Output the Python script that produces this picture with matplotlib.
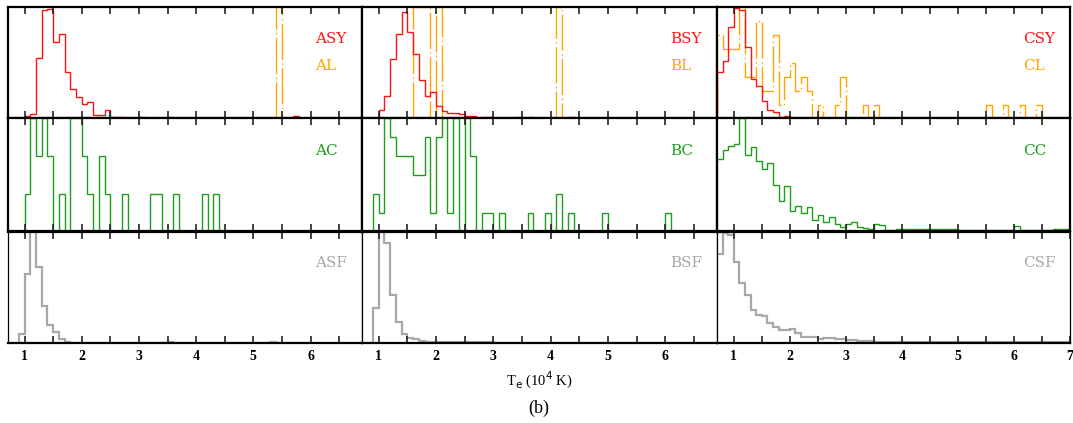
import numpy as np
import matplotlib
matplotlib.use("Agg")
import matplotlib.pyplot as plt
from matplotlib.ticker import MultipleLocator

BIN = 0.1

# ---- top row: synthetic-line (red, % of panel) and line-sample (orange, counts)
ASY_start = 1.0
ASY = [2, 4, 54, 97, 98, 68, 76, 42, 26, 19, 13, 15, 3, 3, 7.5, 1, 1.5, 0, 0, 0,
       1.5, 0, 0, 0, 0, 1.2, 0, 0, 0, 0, 0, 0.6, 0.6, 0.6, 0, 0, 0, 0.6,
       0, 0, 0, 0, 0, 0, 0, 0, 0, 2, 0]
AL_start = 5.4
AL = [1]

BSY_start = 0.9
BSY = [0, 8, 20, 53, 76, 95, 77, 58, 34, 20, 24, 11, 6.5, 5, 5, 4, 2, 2, 0.5, 1,
       1, 0.5, 0.5, 0.5, 0.5, 1.2, 0.5, 1.2, 0.3, 0.3, 0.3, 0.3, 0.3, 0.3, 1.2, 0]
BL_start = 1.6
BL = [1, 1, 1, 0, 1, 0, 0, 0, 0, 0, 0, 0, 0, 0, 0, 0, 0, 0, 0, 0,
      0, 0, 0, 0, 0, 1]

CSY_start = 0.7
CSY = [42, 51, 81.5, 99, 97, 64, 35.5, 29, 16, 8, 6, 1.5, 2]
CL_start = 0.7
CL = [6, 5, 5, 5, 8, 3, 3, 7, 2, 2,
      6, 1, 3, 4, 2, 3, 2, 0, 1, 0,
      0, 1, 3, 0, 0, 0, 1, 0, 1, 0,
      0, 0, 0, 0, 0, 0, 0, 0, 0, 0, 0, 0, 0, 0, 0, 0, 0, 0,
      1, 0, 0, 1, 0, 0, 1, 0, 0, 1]

# ---- middle row (green)
AC_start = 1.0
AC = [1, 3, 2, 3, 2, 0, 1, 0, 3, 3, 2, 1, 0, 2, 1, 0, 0, 1, 0, 0,
      0, 0, 1, 1, 0, 0, 1, 0, 0, 0, 0, 1, 0, 1]
BC_start = 0.9
BC = [2, 1, 6, 5, 4, 4, 4, 3, 3, 5, 1, 5, 6, 1, 6, 0, 6, 4, 0, 1,
      1, 0, 1, 0, 0, 0, 0, 1, 0, 0, 1, 0, 2, 0, 1, 0, 0, 0, 0, 0,
      1, 0, 0, 0, 0, 0, 0, 0, 0, 0, 0, 1]
CC_start = 0.7
CC = ([64.5, 72, 76, 77.5, 100, 67.5, 74.5, 62.5, 55.5, 61,
       41, 27, 40, 18, 23, 16, 22, 10, 14.5, 8.5,
       13, 7, 4, 7, 8, 4, 3, 2.5, 6.5, 5.5, 1, 1, 2.5]
      + [2] * 10 + [1] * 10 + [5] + [1] * 6 + [2] * 3)

# ---- bottom row (grey, % of panel)
ASF_start = 0.9
ASF = ([8, 62, 100, 68, 33, 16, 10, 3.6, 1.2, 0.6, 0.6]
       + [0.3] * 15 + [1] + [0.3] * 17 + [1] + [0.3] * 5)
BSF_start = 0.9
BSF = ([32, 100, 90, 43, 19, 8, 5, 3.6, 2.5, 1.5, 1.5]
       + [1.0] * 10 + [0.6] * 39)
CSF_start = 0.7
CSF = ([80, 99, 97, 73, 54, 43, 30, 25.6, 24, 18, 15, 12, 11.5, 12.7, 9,
        6, 6, 6, 3.6, 5, 4.5, 4, 3.6, 3, 3, 2.4, 2.4, 2.4]
       + [1.5] * 5 + [1.2] * 10 + [0.8] * 20)

RED, ORANGE, GREEN, GREY = "#ff1414", "#ffa500", "#1c9e1c", "#a8a8a8"


def norm(v):
    v = np.asarray(v, dtype=float)
    return 100.0 * v / v.max()


def edges(start, vals):
    return start + BIN * np.arange(len(vals) + 1)


fig = plt.figure(figsize=(10.73, 4.23), dpi=100)
W, H = 1073.0, 423.0
col_x = [8, 362, 717]
col_w = [354, 355, 353]
row_top = [6.7, 118.5, 231.5]
row_h = [111.8, 113.0, 111.8]
xlims = [(0.71, 6.9), (0.71, 6.9), (0.70, 7.0)]

top = [
    [(ASY_start, ASY, RED, "-", "ASY"), (AL_start, norm(AL), ORANGE, "dd", "AL")],
    [(BSY_start, BSY, RED, "-", "BSY"), (BL_start, norm(BL), ORANGE, "dd", "BL")],
    [(CSY_start, CSY, RED, "-", "CSY"), (CL_start, norm(CL), ORANGE, "dd", "CL")],
]
mid = [
    [(AC_start, norm(AC), GREEN, "-", "AC")],
    [(BC_start, norm(BC), GREEN, "-", "BC")],
    [(CC_start, CC, GREEN, "-", "CC")],
]
bot = [
    [(ASF_start, ASF, GREY, "-", "ASF")],
    [(BSF_start, BSF, GREY, "-", "BSF")],
    [(CSF_start, CSF, GREY, "-", "CSF")],
]
rows = [top, mid, bot]
label_y = [[0.71, 0.47], [0.71], [0.72]]

for r in range(3):
    for c in range(3):
        ax = fig.add_axes([col_x[c] / W, 1 - (row_top[r] + row_h[r]) / H,
                           col_w[c] / W, row_h[r] / H])
        series = rows[r][c]
        # draw orange first so red lies over it
        for (start, vals, col, ls, name) in sorted(series, key=lambda s: s[3] != "dd", reverse=False):
            if ls == "dd":
                ax.stairs(vals, edges(start, vals), baseline=0, color=col, lw=1.0,
                          linestyle=(0, (26, 2.5, 1, 2.5)))
            else:
                ax.stairs(vals, edges(start, vals), baseline=0, color=col,
                          lw=1.6 if col == GREY else 1.0)
        for k, (start, vals, col, ls, name) in enumerate(series):
            ax.text(0.868, label_y[r][k], name, transform=ax.transAxes,
                    color=col, fontsize=11, family="DejaVu Serif",
                    ha="left", va="center")
        ax.set_xlim(*xlims[c])
        ax.set_ylim(0, 100)
        ax.xaxis.set_major_locator(MultipleLocator(1))
        ax.xaxis.set_minor_locator(MultipleLocator(0.5))
        ax.tick_params(axis="x", which="both", direction="in", top=True,
                       bottom=True, length=5, width=1.2, color="#222222")
        ax.set_yticks([])
        for s in ax.spines.values():
            s.set_linewidth(1.6)
        if r == 2:
            ax.spines["left"].set_linewidth(0.9)
            ax.spines["right"].set_linewidth(0.9)
            ax.tick_params(axis="x", labelsize=10, pad=5)
            for lab in ax.get_xticklabels():
                lab.set_fontfamily("Liberation Serif")
                lab.set_fontweight("bold")
        else:
            ax.tick_params(axis="x", labelbottom=False)

fig.text(539 / W, 1 - 380 / H, r"T$_{\mathrm{e}}$ (10$^{4}$ K)", ha="center",
         va="center", fontsize=10.5, family="Liberation Serif")
fig.text(539 / W, 1 - 408 / H, "(b)", ha="center", va="center",
         fontsize=13, family="Liberation Serif")

fig.savefig("out.png", dpi=100)
